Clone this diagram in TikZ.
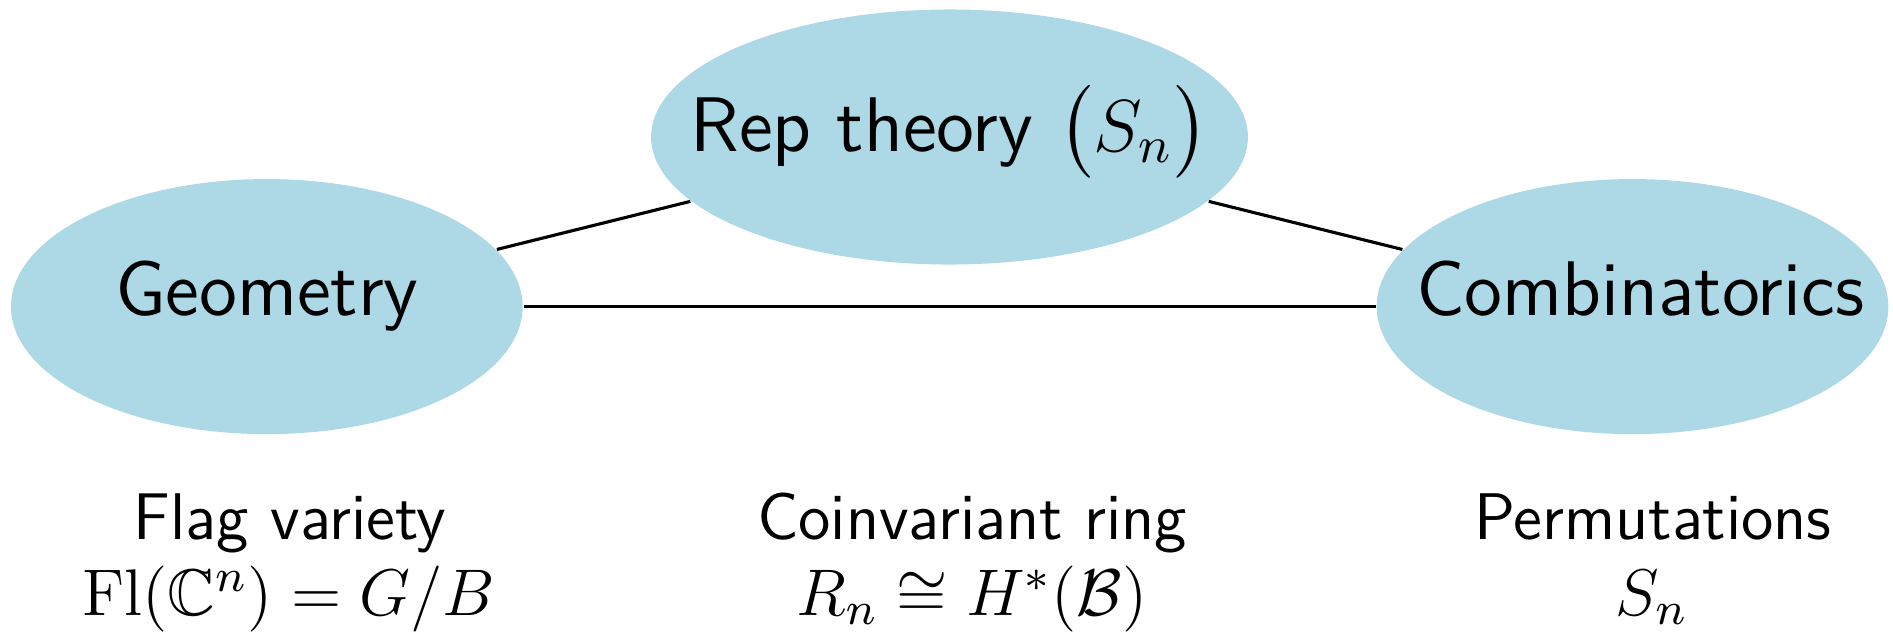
\RequirePackage{fix-cm}
\documentclass[tikz,border=0pt]{standalone}
\usepackage{amsmath}
\usepackage{amssymb}
\usetikzlibrary{shapes.geometric}
\definecolor{ellblue}{RGB}{173,216,230}
\begin{document}
\begin{tikzpicture}[x=0.1925pt,y=-0.1925pt,
  blob/.style={ellipse, fill=ellblue, draw=none, inner sep=0pt, minimum height=49.1pt, text depth=0pt, font=\sffamily\fontsize{14.9}{18}\selectfont},
  link/.style={line width=0.6pt},
  lbl/.style={anchor=base, inner sep=0pt, font=\sffamily\fontsize{12.7}{15.2}\selectfont}]
\useasboundingbox (0,0) rectangle (1893,633);
\node[blob, minimum width=98.5pt, text height=3.5pt] (geo) at (266.8,306.6) {\makebox[0pt]{Geometry}};
\node[blob, minimum width=114.9pt, text height=5.6pt] (rep) at (949.5,137) {\makebox[0pt]{Rep theory $\bigl(\mbox{\fontsize{14.2}{16}\selectfont$S_n$}\bigr)$}};
\node[blob, minimum width=98.5pt, text height=3.5pt] (comb) at (1632.5,306.6) {\makebox[0pt]{\hspace{3pt}Combinatorics}};
\draw[link] (geo) -- (rep);
\draw[link] (rep) -- (comb);
\draw[link] (geo) -- (comb);
\node[lbl] (flag) at (290,539) {Flag variety};
\node[lbl] (flagm) at (289,615) {$\mathrm{Fl}(\mathbb{C}^n) = G/B$};
\node[lbl] (coin) at (972,539) {Coinvariant ring};
\node[lbl] (coinm) at (972,615) {$R_n \cong H^*(\mathcal{B})$};
\node[lbl] (perm) at (1653,539) {Permutations};
\node[lbl] (permm) at (1652,615) {$S_n$};
\end{tikzpicture}
\end{document}
